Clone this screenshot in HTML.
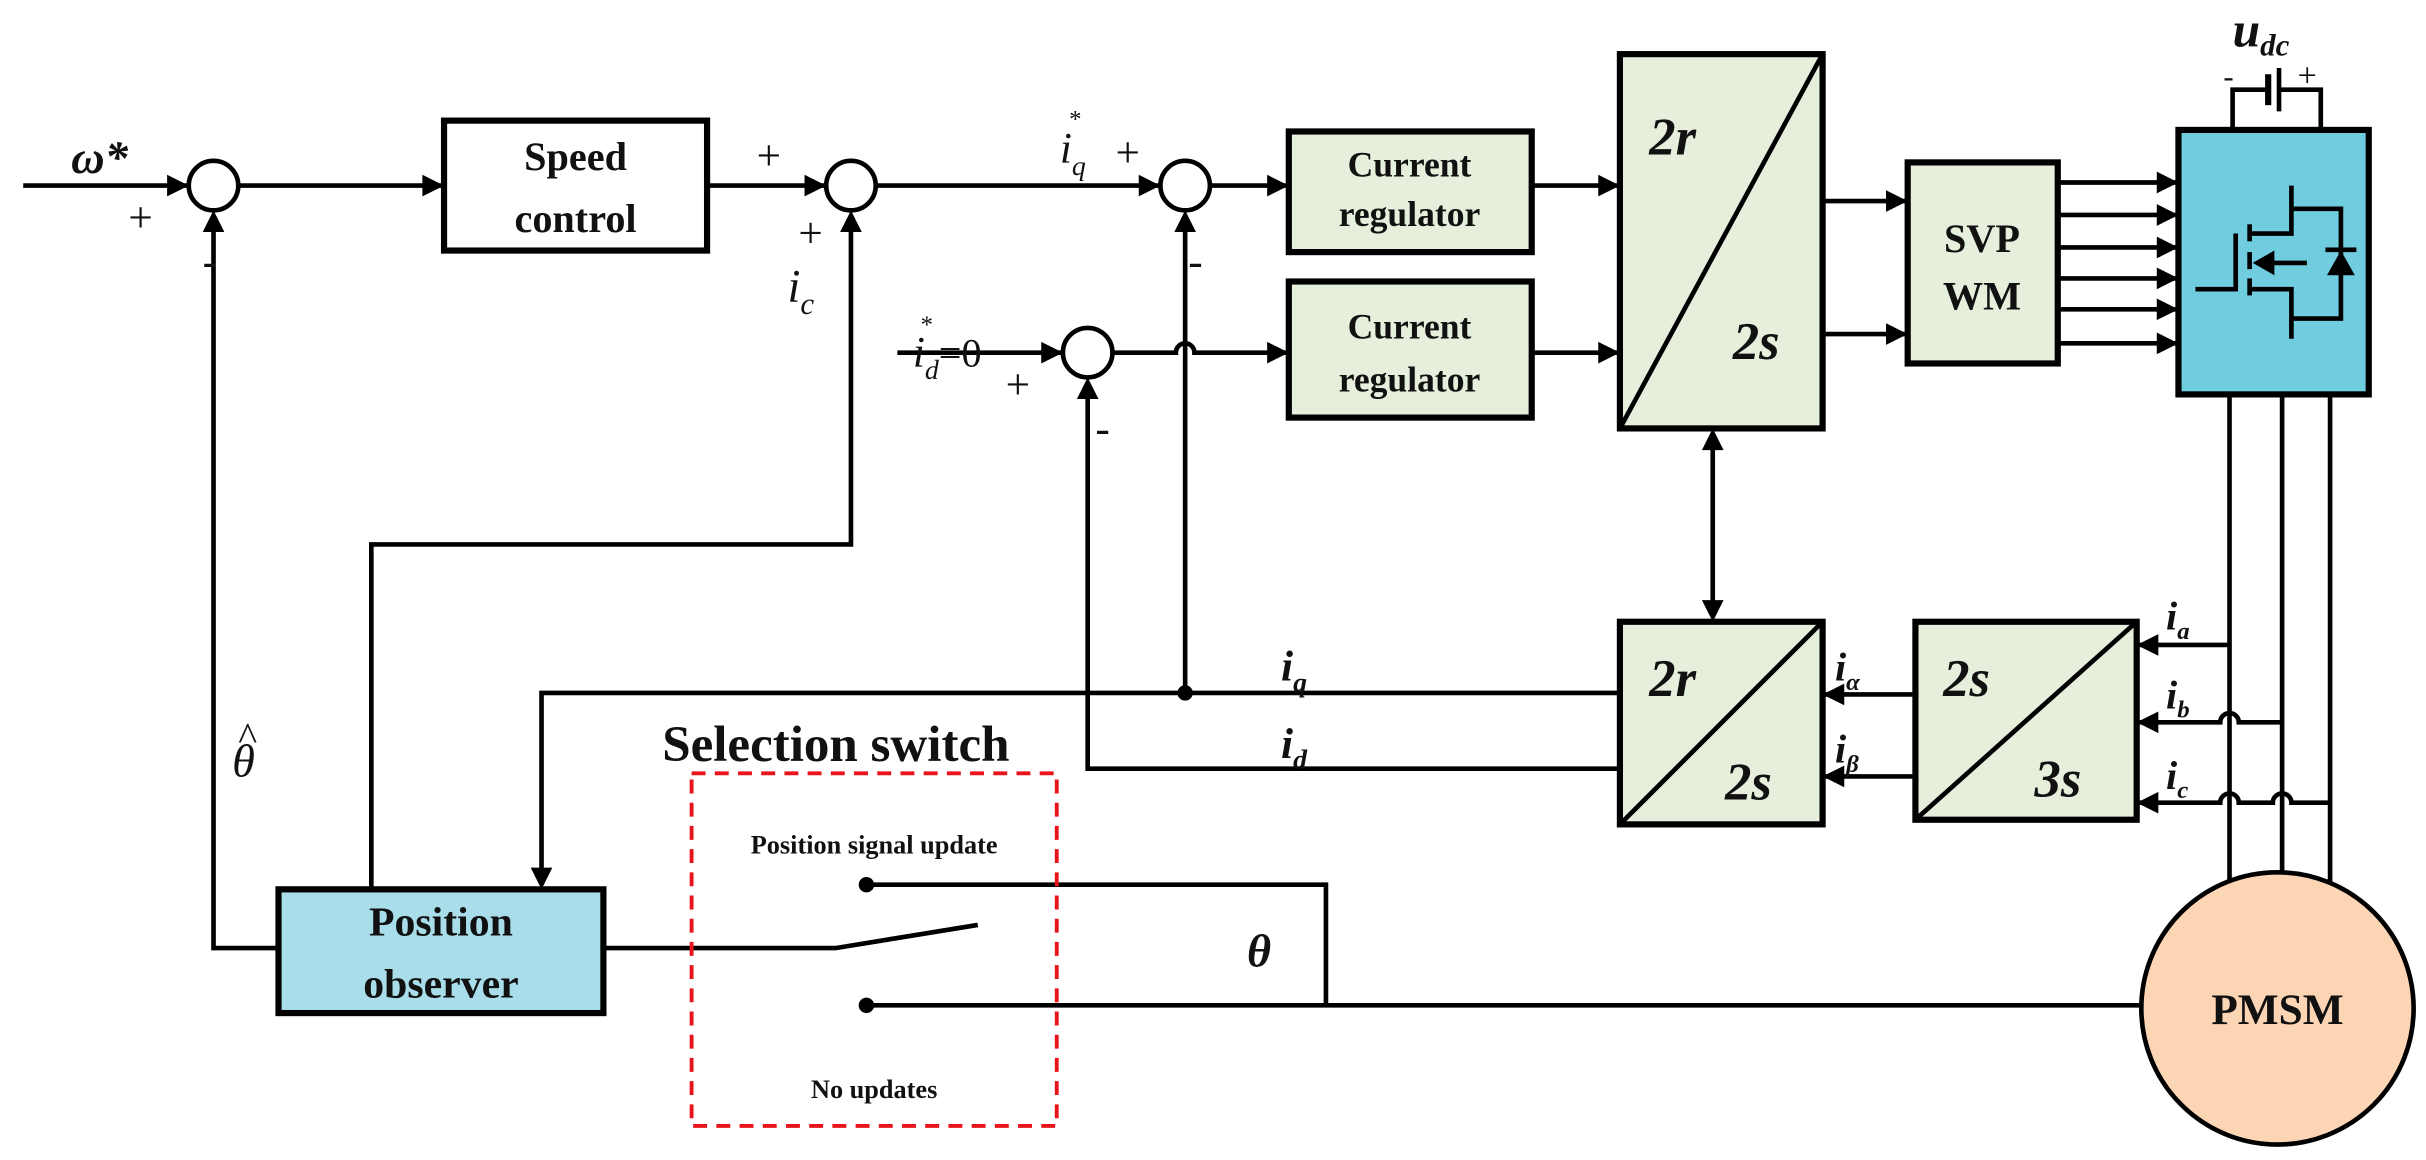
<!DOCTYPE html>
<html><head><meta charset="utf-8"><style>
html,body{margin:0;padding:0;background:#fff;}
svg{display:block;}
text{font-family:"Liberation Serif",serif;fill:#111;}
</style></head><body>
<svg width="2426" height="1160" viewBox="0 0 1568 750" preserveAspectRatio="none" xmlns="http://www.w3.org/2000/svg">
<g stroke="#000" stroke-width="3" fill="none">
<line x1="15" y1="120" x2="122" y2="120"/>
<line x1="154" y1="120" x2="287" y2="120"/>
<line x1="457" y1="120" x2="534" y2="120"/>
<line x1="566" y1="120" x2="750" y2="120"/>
<line x1="782" y1="120" x2="833" y2="120"/>
<line x1="580" y1="228" x2="687" y2="228"/>
<path d="M719 228 H760 a6 6 0 0 1 12 0 H833"/>
<line x1="990" y1="120" x2="1047" y2="120"/>
<line x1="990" y1="228" x2="1047" y2="228"/>
<line x1="1178" y1="130" x2="1233" y2="130"/>
<line x1="1178" y1="216" x2="1233" y2="216"/>
<line x1="1330" y1="118" x2="1408" y2="118"/>
<line x1="1330" y1="139" x2="1408" y2="139"/>
<line x1="1330" y1="160" x2="1408" y2="160"/>
<line x1="1330" y1="180" x2="1408" y2="180"/>
<line x1="1330" y1="200" x2="1408" y2="200"/>
<line x1="1330" y1="222" x2="1408" y2="222"/>
<path d="M1443 83 V58 H1466 M1473 58 H1500 V83"/>
<line x1="1466" y1="48" x2="1466" y2="68" stroke-width="4"/>
<line x1="1473" y1="44" x2="1473" y2="72" stroke-width="3"/>
<line x1="1441" y1="255" x2="1441" y2="570"/>
<line x1="1475" y1="255" x2="1475" y2="565"/>
<line x1="1506" y1="255" x2="1506" y2="572"/>
<line x1="1441" y1="417" x2="1381" y2="417"/>
<path d="M1475 467 H1447 a6 6 0 0 0 -12 0 H1381"/>
<path d="M1506 519 H1481 a6 6 0 0 0 -12 0 H1447 a6 6 0 0 0 -12 0 H1381"/>
<line x1="1238" y1="449" x2="1178" y2="449"/>
<line x1="1238" y1="502" x2="1178" y2="502"/>
<line x1="1107" y1="285" x2="1107" y2="395"/>
<path d="M1047 448 H350 V568"/>
<line x1="766" y1="448" x2="766" y2="140"/>
<path d="M1047 497 H703 V248"/>
<path d="M240 575 V352 H550 V140"/>
<path d="M180 613 H138 V140"/>
<path d="M390 613 H540 L632 598"/>
<path d="M560 572 H857 V650"/>
<line x1="560" y1="650" x2="1385" y2="650"/>
</g>
<g fill="#000">
<path d="M122 120 l-14 -7 v14z"/>
<path d="M287 120 l-14 -7 v14z"/>
<path d="M534 120 l-14 -7 v14z"/>
<path d="M750 120 l-14 -7 v14z"/>
<path d="M833 120 l-14 -7 v14z"/>
<path d="M687 228 l-14 -7 v14z"/>
<path d="M833 228 l-14 -7 v14z"/>
<path d="M1047 120 l-14 -7 v14z"/>
<path d="M1047 228 l-14 -7 v14z"/>
<path d="M1233 130 l-14 -7 v14z"/>
<path d="M1233 216 l-14 -7 v14z"/>
<path d="M1408 118 l-14 -7 v14z"/>
<path d="M1408 139 l-14 -7 v14z"/>
<path d="M1408 160 l-14 -7 v14z"/>
<path d="M1408 180 l-14 -7 v14z"/>
<path d="M1408 200 l-14 -7 v14z"/>
<path d="M1408 222 l-14 -7 v14z"/>
<path d="M1381 417 l14 -7 v14z"/>
<path d="M1381 467 l14 -7 v14z"/>
<path d="M1381 519 l14 -7 v14z"/>
<path d="M1178 449 l14 -7 v14z"/>
<path d="M1178 502 l14 -7 v14z"/>
<path d="M1107 277 l-7 14 h14z"/>
<path d="M1107 402 l-7 -14 h14z"/>
<path d="M138 136 l-7 14 h14z"/>
<path d="M550 136 l-7 14 h14z"/>
<path d="M766 136 l-7 14 h14z"/>
<path d="M703 244 l-7 14 h14z"/>
<path d="M350 575 l-7 -14 h14z"/>
<circle cx="766" cy="448" r="5"/>
<circle cx="560" cy="572" r="5"/>
<circle cx="560" cy="650" r="5"/>
</g>
<g stroke="#000" stroke-width="3" fill="#fff">
<circle cx="138" cy="120" r="16"/>
<circle cx="550" cy="120" r="16"/>
<circle cx="766" cy="120" r="16"/>
<circle cx="703" cy="228" r="16"/>
</g>
<g stroke="#000" stroke-width="4">
<rect x="287" y="78" width="170" height="84" fill="#fff"/>
<rect x="833" y="85" width="157" height="78" fill="#e6efdc"/>
<rect x="833" y="182" width="157" height="88" fill="#e6efdc"/>
<rect x="1047" y="35" width="131" height="242" fill="#e6efdc"/>
<rect x="1233" y="105" width="97" height="130" fill="#e6efdc"/>
<rect x="1408" y="84" width="123" height="171" fill="#70cddf"/>
<rect x="1047" y="402" width="131" height="131" fill="#e6efdc"/>
<rect x="1238" y="402" width="143" height="128" fill="#e6efdc"/>
<rect x="180" y="575" width="210" height="80" fill="#a8dde9"/>
<circle cx="1472" cy="652" r="88" fill="#fcd5b5" stroke-width="3"/>
</g>
<g stroke="#000" stroke-width="3" fill="none">
<line x1="1047" y1="277" x2="1178" y2="35"/>
<line x1="1047" y1="533" x2="1178" y2="402"/>
<line x1="1238" y1="530" x2="1381" y2="402"/>
<!-- mosfet -->
<path d="M1419 187 H1445 V151"/>
<line x1="1454" y1="145" x2="1454" y2="156"/>
<line x1="1454" y1="163" x2="1454" y2="174"/>
<line x1="1454" y1="180" x2="1454" y2="191"/>
<path d="M1454 151 H1481 V120"/>
<path d="M1481 135 H1513 V206 H1481"/>
<path d="M1454 187 H1481 V219"/>
<line x1="1465" y1="170" x2="1491" y2="170"/>
</g>
<g fill="#000">
<path d="M1456 170 l14 -8 v16z"/>
<path d="M1513 162 l-9 16 h18z"/>
<rect x="1503" y="160" width="20" height="3"/>
</g>
<rect x="447" y="500" width="236" height="228" fill="none" stroke="#e8141c" stroke-width="2.5" stroke-dasharray="9 6"/>
<g font-weight="bold" text-anchor="middle">
<text x="372" y="110" font-size="26">Speed</text>
<text x="372" y="150" font-size="26">control</text>
<text x="911" y="114" font-size="23">Current</text>
<text x="911" y="146" font-size="23">regulator</text>
<text x="911" y="219" font-size="23">Current</text>
<text x="911" y="253" font-size="23">regulator</text>
<text x="1281" y="163" font-size="26">SVP</text>
<text x="1281" y="200" font-size="26">WM</text>
<text x="285" y="605" font-size="27">Position</text>
<text x="285" y="645" font-size="27">observer</text>
<text x="1472" y="662" font-size="28">PMSM</text>
<text x="565" y="552" font-size="17">Position signal update</text>
<text x="565" y="710" font-size="17">No updates</text>
</g>
<text x="428" y="492" font-size="33" font-weight="bold">Selection switch</text>
<g font-weight="bold" font-style="italic" font-size="34">
<text x="1066" y="100">2r</text>
<text x="1120" y="232">2s</text>
<text x="1066" y="450">2r</text>
<text x="1115" y="517">2s</text>
<text x="1256" y="450">2s</text>
<text x="1315" y="515">3s</text>
</g>
<g font-style="italic">
<text x="46" y="112" font-size="30" font-weight="bold">ω*</text>
<text x="1443" y="30" font-size="32" font-weight="bold">u<tspan font-size="20" dy="6">dc</tspan></text>
<text x="509" y="195" font-size="30">i<tspan font-size="20" dy="8">c</tspan></text>
<text x="685" y="105" font-size="28">i<tspan font-size="18" dy="8">q</tspan></text>
<text x="691" y="82" font-size="16" font-style="normal">*</text>
<text x="590" y="237" font-size="28">i<tspan font-size="18" dy="8">d</tspan><tspan font-style="normal" font-size="26" dy="-8">=0</tspan></text>
<text x="595" y="215" font-size="16" font-style="normal">*</text>
<text x="828" y="440" font-size="28" font-weight="bold">i<tspan font-size="18" dy="7">q</tspan></text>
<text x="828" y="490" font-size="28" font-weight="bold">i<tspan font-size="18" dy="7">d</tspan></text>
<text x="1186" y="440" font-size="26" font-weight="bold">i<tspan font-size="16" dy="6">α</tspan></text>
<text x="1186" y="493" font-size="26" font-weight="bold">i<tspan font-size="16" dy="6">β</tspan></text>
<text x="1400" y="407" font-size="26" font-weight="bold">i<tspan font-size="16" dy="6">a</tspan></text>
<text x="1400" y="458" font-size="26" font-weight="bold">i<tspan font-size="16" dy="6">b</tspan></text>
<text x="1400" y="510" font-size="26" font-weight="bold">i<tspan font-size="16" dy="6">c</tspan></text>
<text x="150" y="502" font-size="30">θ</text>
<text x="806" y="625" font-size="30" font-weight="bold">θ</text>
</g>
<text x="154" y="485" font-size="26">^</text>
<g font-size="28">
<text x="83" y="150">+</text>
<text x="131" y="178">-</text>
<text x="489" y="110">+</text>
<text x="516" y="160">+</text>
<text x="721" y="108">+</text>
<text x="768" y="178">-</text>
<text x="650" y="258">+</text>
<text x="708" y="286">-</text>
<text x="1437" y="56" font-size="20">-</text>
<text x="1485" y="56" font-size="22">+</text>
</g>
</svg>
</body></html>
